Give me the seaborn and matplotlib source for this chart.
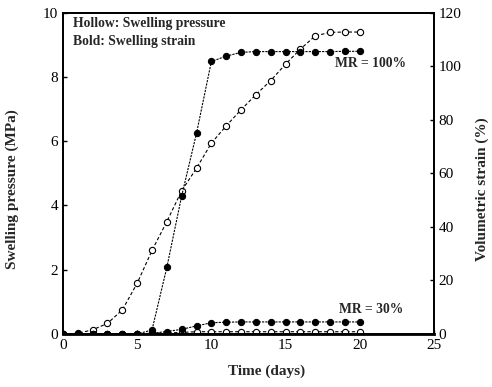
import numpy as np
import pandas as pd
import matplotlib
matplotlib.use("Agg")
import matplotlib.pyplot as plt
import seaborn as sns

days = list(range(0, 21))

# MR = 100%
pressure_100 = [0.0, 0.02, 0.13, 0.33, 0.75, 1.58, 2.6, 3.5, 4.46, 5.16, 5.94,
                6.48, 6.98, 7.45, 7.89, 8.4, 8.87, 9.28, 9.39, 9.4, 9.4]
strain_100 = [0.0, 0.0, 0.0, 0.0, 0.0, 0.0, 1.5, 24.9, 51.6, 75.0, 101.8,
              103.8, 105.2, 105.5, 105.5, 105.5, 105.5, 105.5, 105.5, 105.6, 105.6]

# MR = 30%
pressure_30 = [0.0, 0.0, 0.0, 0.0, 0.0, 0.0, 0.02, 0.03, 0.05, 0.07, 0.07,
               0.07, 0.07, 0.07, 0.07, 0.07, 0.07, 0.07, 0.07, 0.07, 0.07]
strain_30 = [0.0, 0.0, 0.0, 0.0, 0.0, 0.0, 0.3, 0.9, 1.75, 3.0, 4.2,
             4.4, 4.5, 4.5, 4.5, 4.5, 4.5, 4.5, 4.5, 4.5, 4.5]

sns.set_theme(style="ticks")
plt.rcParams["font.family"] = ["Liberation Serif", "DejaVu Serif"]

fig = plt.figure(figsize=(4.92, 3.87), dpi=100)
ax = fig.add_axes([0.128, 0.137, 0.754, 0.830])
ax2 = ax.twinx()

hollow = dict(color="black", marker="o", markersize=4.5, markerfacecolor="white",
              markeredgecolor="black", markeredgewidth=0.8, linewidth=0.8,
              linestyle=(0, (3, 2)))
bold = dict(color="black", marker="o", markersize=4.5, markerfacecolor="black",
            markeredgecolor="black", linewidth=0.8, linestyle=(0, (2, 1)))

df = pd.DataFrame({"day": days, "p100": pressure_100, "s100": strain_100,
                   "p30": pressure_30, "s30": strain_30})

sns.lineplot(data=df, x="day", y="p100", ax=ax, **hollow)
sns.lineplot(data=df, x="day", y="p30", ax=ax, **hollow)
sns.lineplot(data=df, x="day", y="s100", ax=ax2, **bold)
sns.lineplot(data=df, x="day", y="s30", ax=ax2, **bold)

ax.set_xlim(0, 25)
ax.set_ylim(0, 10)
ax2.set_ylim(0, 120)
ax.set_xticks([0, 5, 10, 15, 20, 25])
ax.set_yticks([0, 2, 4, 6, 8, 10])
ax2.set_yticks([0, 20, 40, 60, 80, 100, 120])

for a in (ax, ax2):
    a.tick_params(direction="in", length=3, width=1, labelsize=11, colors="black")
    for s in a.spines.values():
        s.set_linewidth(1.3)
        s.set_color("black")
ax.spines["bottom"].set_linewidth(2.0)

ax.set_xlabel("Time (days)", fontsize=11, fontweight="bold")
ax.xaxis.set_label_coords(0.55, -0.095)
ax.set_ylabel("Swelling pressure (MPa)", fontsize=11, fontweight="bold")
ax.yaxis.set_label_coords(-0.118, 0.45)
ax2.set_ylabel("Volumetric strain (%)", fontsize=11, fontweight="bold")
ax2.yaxis.set_label_coords(1.113, 0.45)

ax.text(0.65, 9.66, "Hollow: Swelling pressure", fontsize=9.8, fontweight="bold",
        va="center", ha="left")
ax.text(0.65, 9.1, "Bold: Swelling strain", fontsize=9.8, fontweight="bold",
        va="center", ha="left")
ax.text(18.3, 8.41, "MR = 100%", fontsize=9.8, fontweight="bold", va="center", ha="left")
ax.text(18.6, 0.75, "MR = 30%", fontsize=9.8, fontweight="bold", va="center", ha="left")

fig.savefig("out.png", dpi=100)
